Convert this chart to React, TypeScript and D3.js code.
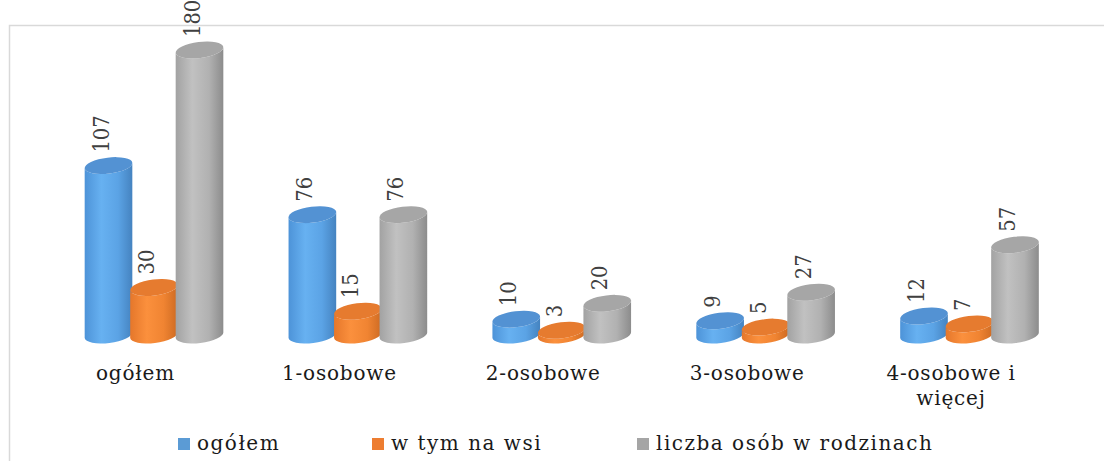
import React from 'react';
import * as d3 from 'd3';

// categories and series
const categories = ['ogółem', '1-osobowe', '2-osobowe', '3-osobowe', '4-osobowe i więcej'];
const categoryLines = [['ogółem'], ['1-osobowe'], ['2-osobowe'], ['3-osobowe'], ['4-osobowe i', 'więcej']];
const seriesNames = ['ogółem', 'w tym na wsi', 'liczba osób w rodzinach'];
const ogolem = [107, 76, 10, 9, 12];
const naWsi = [30, 15, 3, 5, 7];
const osobWRodzinach = [180, 76, 20, 27, 57];

const seriesValues = [ogolem, naWsi, osobWRodzinach];

const W = 1104;
const H = 461;
const FONT = '"DejaVu Serif", serif';

// colours per series: gradient stops for the body, flat fill for the cap
const bodyStops = [
  ['#4d93d8', '#67b1f1', '#5ba3e5', '#4583c0'],
  ['#e5772b', '#fb903d', '#f08432', '#cd6a22'],
  ['#a2a2a2', '#c1c1c1', '#b1b1b1', '#8c8c8c'],
];
const capColor = ['#5392d3', '#e67b2f', '#a6a6a6'];
const legendColor = ['#5b9bd5', '#ed7d31', '#a5a5a5'];
const legendX = [178, 372, 637];

const rx = 24;
const ry = 8;
const tilt = -7; // degrees, caps lean up to the right

function ellipsePoint(cx: number, cy: number, t: number) {
  const a = (tilt * Math.PI) / 180;
  return [
    cx + rx * Math.cos(t) * Math.cos(a) - ry * Math.sin(t) * Math.sin(a),
    cy + rx * Math.cos(t) * Math.sin(a) + ry * Math.sin(t) * Math.cos(a),
  ];
}

function cylinderBody(cx: number, yTop: number, yBot: number) {
  const [lx, lyT] = ellipsePoint(cx, yTop, Math.PI);
  const [rxT, ryT] = ellipsePoint(cx, yTop, 0);
  const [, lyB] = ellipsePoint(cx, yBot, Math.PI);
  const [, ryB] = ellipsePoint(cx, yBot, 0);
  return `M${lx},${lyT} L${lx},${lyB} A${rx},${ry} ${tilt} 0 0 ${rxT},${ryB} L${rxT},${ryT} A${rx},${ry} ${tilt} 0 1 ${lx},${lyT} Z`;
}

export default function App() {
  const x = d3.scalePoint<string>().domain(categories).range([154.5, 970]);
  const inner = d3.scalePoint<string>().domain(seriesNames).range([-46, 45]);
  const y = d3.scaleLinear().domain([0, 180]).range([335, 50]);

  return (
    <svg width={W} height={H} style={{ position: 'absolute', left: 0, top: 0, background: '#fff' }}>
      <defs>
        {bodyStops.map((stops, i) => (
          <linearGradient key={i} id={`body${i}`} x1="0" x2="1" y1="0" y2="0">
            {stops.map((c, j) => (
              <stop key={j} offset={[0, 0.35, 0.7, 1][j]} stopColor={c} />
            ))}
          </linearGradient>
        ))}
      </defs>

      {/* chart frame, runs off the right and bottom edges */}
      <rect x={9.5} y={25.5} width={1200} height={600} fill="none" stroke="#d9d9d9" strokeWidth={1.5} />

      {categories.map((cat, ci) => (
        <g key={cat}>
          {seriesNames.map((s, si) => {
            const v = seriesValues[si][ci];
            const cx = (x(cat) as number) + (inner(s) as number);
            const yTop = y(v);
            const yBot = y(0);
            return (
              <g key={s}>
                <path d={cylinderBody(cx, yTop, yBot)} fill={`url(#body${si})`} />
                <ellipse
                  cx={cx}
                  cy={yTop}
                  rx={rx}
                  ry={ry}
                  transform={`rotate(${tilt},${cx},${yTop})`}
                  fill={capColor[si]}
                />
                <text
                  transform={`translate(${cx},${yTop - 13}) rotate(-90) scale(0.85,1)`}
                  fontFamily={FONT}
                  fontSize={23}
                  fill="#404040"
                >
                  {v}
                </text>
              </g>
            );
          })}
          <text
            x={(x(cat) as number) - 19}
            y={380}
            textAnchor="middle"
            fontFamily={FONT}
            fontSize={20}
            letterSpacing={0.8}
            fill="#1a1a1a"
          >
            {categoryLines[ci].map((line, li) => (
              <tspan key={li} x={(x(cat) as number) - 19} dy={li === 0 ? 0 : 25}>
                {line}
              </tspan>
            ))}
          </text>
        </g>
      ))}

      {/* legend */}
      {seriesNames.map((s, i) => (
        <g key={s} transform={`translate(${legendX[i]},438)`}>
          <rect x={0} y={0} width={12} height={12} fill={legendColor[i]} />
          <text x={19} y={12} fontFamily={FONT} fontSize={20} letterSpacing={1.5} fill="#1a1a1a">
            {s}
          </text>
        </g>
      ))}
    </svg>
  );
}
